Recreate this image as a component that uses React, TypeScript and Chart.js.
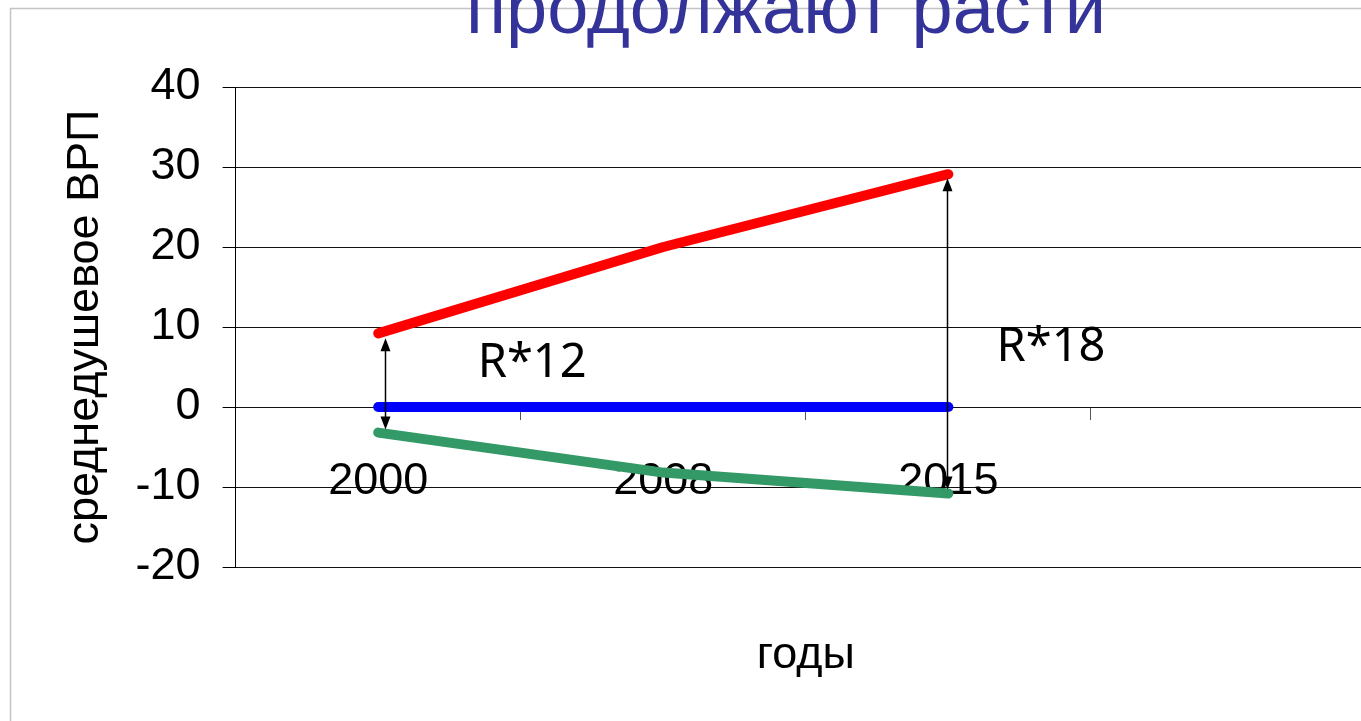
import React, { useEffect, useRef } from 'react';
import { Chart, registerables } from 'chart.js';

Chart.register(...registerables);

// ---- data ----
const chartTitle = 'продолжают расти';
const categories = ['2000', '2008', '2015', ''];
const redValues = [9.2, 20.0, 29.1];
const blueValues = [0, 0, 0];
const greenValues = [-3.2, -8.2, -10.8];
const yMin = -20;
const yMax = 40;
const yStep = 10;
const yTitle = 'среднедушевое ВРП';
const xTitle = 'годы';
const noteTexts = ['R*12', 'R*18'];
const noteCategory = [0.54, 2.36];
const noteValue = [5.4, 7.4];
const arrowCategory = [0.025, 1.995];
const arrowTop = [8.6, 28.6];
const arrowBottom = [-2.8, -10.3];

const SANS = '"Liberation Sans", Arial, sans-serif';

function drawArrow(ctx: CanvasRenderingContext2D, x: number, yTop: number, yBot: number) {
  const head = 13;
  const half = 5;
  ctx.save();
  ctx.strokeStyle = '#000';
  ctx.fillStyle = '#000';
  ctx.lineWidth = 1.5;
  ctx.beginPath();
  ctx.moveTo(x, yTop + head - 1);
  ctx.lineTo(x, yBot - head + 1);
  ctx.stroke();
  ctx.beginPath();
  ctx.moveTo(x, yTop);
  ctx.lineTo(x - half, yTop + head);
  ctx.lineTo(x + half, yTop + head);
  ctx.closePath();
  ctx.fill();
  ctx.beginPath();
  ctx.moveTo(x, yBot);
  ctx.lineTo(x - half, yBot - head);
  ctx.lineTo(x + half, yBot - head);
  ctx.closePath();
  ctx.fill();
  ctx.restore();
}

const decorPlugin = {
  id: 'decor',
  beforeDraw(chart: any) {
    const ctx = chart.ctx as CanvasRenderingContext2D;
    ctx.save();
    ctx.strokeStyle = '#c4c4c4';
    ctx.lineWidth = 1.5;
    ctx.strokeRect(10.5, 8.5, chart.width + 100, chart.height + 100);
    ctx.restore();
  },
  afterDraw(chart: any) {
    const ctx = chart.ctx as CanvasRenderingContext2D;
    const x = chart.scales.x;
    const y = chart.scales.y;
    for (let i = 0; i < arrowCategory.length; i++) {
      drawArrow(ctx, Math.round(x.getPixelForValue(arrowCategory[i])) + 0.5, y.getPixelForValue(arrowTop[i]), y.getPixelForValue(arrowBottom[i]));
    }
    ctx.save();
    ctx.fillStyle = '#000';
    ctx.font = '47px "Noto Sans", sans-serif';
    ctx.textAlign = 'center';
    ctx.textBaseline = 'middle';
    for (let i = 0; i < noteTexts.length; i++) {
      ctx.fillText(noteTexts[i], x.getPixelForValue(noteCategory[i]), y.getPixelForValue(noteValue[i]));
    }
    ctx.fillStyle = '#333399';
    ctx.font = '74px ' + SANS;
    ctx.textAlign = 'center';
    ctx.textBaseline = 'alphabetic';
    ctx.fillText(chartTitle, 786, 33);
    ctx.restore();
  },
};

export default function App() {
  const canvasRef = useRef<HTMLCanvasElement | null>(null);

  useEffect(() => {
    const canvas = canvasRef.current;
    if (!canvas) return;
    const line = (data: number[], color: string) => ({
      data,
      borderColor: color,
      backgroundColor: color,
      borderWidth: 10,
      borderCapStyle: 'round' as const,
      borderJoinStyle: 'round' as const,
      pointRadius: 0,
      pointHoverRadius: 0,
      tension: 0,
      fill: false,
    });
    const chart = new Chart(canvas, {
      type: 'line',
      data: {
        labels: categories,
        datasets: [line(greenValues, '#339966'), line(blueValues, '#0000ff'), line(redValues, '#ff0000')],
      },
      options: {
        responsive: false,
        animation: false,
        events: [],
        layout: { padding: { left: 50, top: 87, right: 4, bottom: 154 } },
        plugins: { legend: { display: false }, tooltip: { enabled: false }, title: { display: false } },
        scales: {
          x: {
            type: 'category',
            position: { y: 0 } as any,
            offset: true,
            z: 1,
            grid: { display: true, drawOnChartArea: false, drawTicks: true, tickLength: 13, offset: true, tickColor: '#555', tickWidth: 1 },
            border: { display: false },
            ticks: { color: '#000', font: { family: SANS, size: 45 }, padding: 35, maxRotation: 0, autoSkip: false },
            title: { display: true, text: xTitle, color: '#000', font: { family: SANS, size: 45 }, padding: { top: 150, bottom: -36 } },
          },
          y: {
            type: 'linear',
            min: yMin,
            max: yMax,
            grid: { color: '#111', lineWidth: 1, drawTicks: true, tickLength: 13, tickColor: '#000' },
            border: { display: true, color: '#000', width: 1 },
            ticks: { stepSize: yStep, color: '#000', font: { family: SANS, size: 45 }, padding: 22 },
            title: { display: true, text: yTitle, color: '#000', font: { family: SANS, size: 45 }, padding: { top: 8.6, bottom: 1 } },
          },
        },
      },
      plugins: [decorPlugin],
    });
    return () => chart.destroy();
  }, []);

  return (
    <div style={{ position: 'absolute', left: 0, top: 0, width: 1361, height: 721, overflow: 'hidden', background: '#fff' }}>
      <canvas ref={canvasRef} width={1380} height={721} style={{ display: 'block' }} />
    </div>
  );
}
